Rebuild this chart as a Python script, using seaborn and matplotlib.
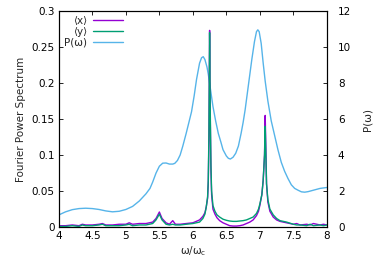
import matplotlib
matplotlib.use("Agg")
import matplotlib.pyplot as plt
import seaborn as sns
import pandas as pd

omega_f = [4.0, 4.1, 4.2, 4.3, 4.35, 4.4, 4.5, 4.6, 4.65, 4.7, 4.8, 4.9, 5.0, 5.05, 5.1,
           5.2, 5.3, 5.4, 5.45, 5.5, 5.54, 5.6, 5.65, 5.7, 5.74, 5.81, 5.9, 6.0, 6.1,
           6.15, 6.18, 6.2, 6.22, 6.23, 6.24, 6.25, 6.26, 6.27, 6.28, 6.29, 6.3, 6.33,
           6.36, 6.4, 6.45, 6.5, 6.55, 6.6, 6.65, 6.7, 6.75, 6.8, 6.85, 6.9, 6.95,
           6.98, 7.0, 7.03, 7.05, 7.07, 7.08, 7.09, 7.1, 7.12, 7.15, 7.2, 7.25, 7.3,
           7.4, 7.5, 7.55, 7.6, 7.7, 7.75, 7.8, 7.9, 7.95, 8.0]
x_spec = [0.002, 0.002, 0.003, 0.002, 0.004, 0.003, 0.003, 0.004, 0.005, 0.003, 0.003,
          0.004, 0.004, 0.006, 0.004, 0.005, 0.005, 0.007, 0.012, 0.021, 0.012, 0.006,
          0.004, 0.009, 0.004, 0.004, 0.005, 0.006, 0.01, 0.015, 0.02, 0.028, 0.04,
          0.06, 0.12, 0.273, 0.15, 0.08, 0.045, 0.035, 0.025, 0.018, 0.013, 0.009,
          0.006, 0.004, 0.002, 0.0015, 0.0015, 0.002, 0.003, 0.005, 0.007, 0.01,
          0.016, 0.022, 0.03, 0.045, 0.065, 0.1, 0.155, 0.11, 0.06, 0.035, 0.022,
          0.014, 0.01, 0.008, 0.006, 0.004, 0.005, 0.003, 0.004, 0.003, 0.005, 0.003,
          0.004, 0.003]
y_spec = [0.001, 0.001, 0.002, 0.001, 0.003, 0.002, 0.002, 0.003, 0.004, 0.002, 0.002,
          0.002, 0.003, 0.004, 0.002, 0.003, 0.003, 0.005, 0.01, 0.018, 0.01, 0.004,
          0.003, 0.004, 0.003, 0.003, 0.004, 0.005, 0.007, 0.012, 0.018, 0.028, 0.042,
          0.065, 0.13, 0.27, 0.16, 0.085, 0.05, 0.04, 0.03, 0.022, 0.017, 0.014,
          0.011, 0.0095, 0.0085, 0.008, 0.008, 0.0085, 0.009, 0.01, 0.012, 0.014,
          0.019, 0.025, 0.032, 0.045, 0.065, 0.1, 0.14, 0.1, 0.06, 0.038, 0.025,
          0.017, 0.012, 0.009, 0.007, 0.004, 0.003, 0.003, 0.002, 0.004, 0.002, 0.003,
          0.002, 0.003]

omega_p = [4.0, 4.1, 4.2, 4.3, 4.4, 4.5, 4.6, 4.7, 4.8, 4.9, 5.0, 5.1, 5.2, 5.3, 5.36,
           5.4, 5.45, 5.5, 5.55, 5.6, 5.65, 5.7, 5.73, 5.77, 5.81, 5.85, 5.9, 5.94,
           5.98, 6.02, 6.055, 6.1, 6.13, 6.155, 6.18, 6.21, 6.23, 6.265, 6.3, 6.34,
           6.38, 6.42, 6.45, 6.5, 6.53, 6.56, 6.6, 6.64, 6.68, 6.72, 6.75, 6.78, 6.83,
           6.88, 6.92, 6.95, 6.97, 6.99, 7.02, 7.05, 7.08, 7.12, 7.17, 7.22, 7.27,
           7.32, 7.37, 7.42, 7.47, 7.52, 7.57, 7.62, 7.67, 7.72, 7.8, 7.9, 8.0]
p_vals = [0.68, 0.85, 0.97, 1.03, 1.05, 1.03, 0.98, 0.9, 0.85, 0.88, 0.98, 1.15, 1.45,
          1.85, 2.15, 2.5, 3.0, 3.38, 3.55, 3.56, 3.5, 3.5, 3.54, 3.7, 4.0, 4.5, 5.2,
          5.8, 6.4, 7.3, 8.2, 9.1, 9.4, 9.46, 9.3, 8.9, 8.5, 7.6, 6.7, 5.9, 5.2, 4.7,
          4.3, 3.95, 3.82, 3.78, 3.88, 4.1, 4.5, 5.2, 5.8, 6.5, 7.9, 9.3, 10.3, 10.85,
          10.95, 10.85, 10.2, 9.1, 8.1, 7.0, 5.9, 5.1, 4.3, 3.6, 3.1, 2.7, 2.35, 2.15,
          2.05, 1.96, 1.94, 1.97, 2.05, 2.15, 2.2]

sns.set_theme(style="white")
plt.rcParams['font.family'] = ['DejaVu Sans']

C_X = "#9400d3"
C_Y = "#009e73"
C_P = "#56b4e9"

df_f = pd.DataFrame({"omega": omega_f, "x": x_spec, "y": y_spec})
df_p = pd.DataFrame({"omega": omega_p, "P": p_vals})

fig = plt.figure(figsize=(3.9, 2.73), dpi=100)
ax = fig.add_axes([0.151, 0.168, 0.687, 0.792])
ax2 = ax.twinx()

sns.lineplot(data=df_f, x="omega", y="x", ax=ax, color=C_X, lw=1.0, label="⟨x⟩")
sns.lineplot(data=df_f, x="omega", y="y", ax=ax, color=C_Y, lw=1.0, label="⟨y⟩")
sns.lineplot(data=df_p, x="omega", y="P", ax=ax2, color=C_P, lw=1.0, label="P(ω)", legend=False)

ax.set_xlim(4, 8)
ax.set_ylim(0, 0.3)
ax2.set_ylim(0, 12)
ax.set_xticks([4, 4.5, 5, 5.5, 6, 6.5, 7, 7.5, 8])
ax.set_xticklabels(["4", "4.5", "5", "5.5", "6", "6.5", "7", "7.5", "8"])
ax.set_yticks([0, 0.05, 0.1, 0.15, 0.2, 0.25, 0.3])
ax.set_yticklabels(["0", "0.05", "0.1", "0.15", "0.2", "0.25", "0.3"])
ax2.set_yticks([0, 2, 4, 6, 8, 10, 12])

fs = 7.5
ax.set_xlabel("ω/ω$_\\mathrm{c}$", fontsize=fs, labelpad=2)
ax.set_ylabel("Fourier Power Spectrum", fontsize=fs, labelpad=4)
ax2.set_ylabel("P(ω)", fontsize=fs, labelpad=8)

for a in (ax, ax2):
    for s in a.spines.values():
        s.set_color("black")
        s.set_linewidth(0.8)
ax.tick_params(axis="both", direction="in", length=3, width=0.6, labelsize=fs,
               top=True, right=False, colors="black", pad=3)
ax2.tick_params(axis="y", direction="in", length=3, width=0.6, labelsize=fs,
                colors="black", pad=8)

h1, l1 = ax.get_legend_handles_labels()
h2, l2 = ax2.get_legend_handles_labels()
ax.legend(h1 + h2, l1 + l2, loc="upper left", bbox_to_anchor=(0.0, 1.0),
          frameon=False, markerfirst=False, fontsize=fs, handlelength=2.8,
          labelspacing=0.05, borderaxespad=0.1, handletextpad=0.6)
ax.legend_.set_zorder(5)
ax2.set_zorder(0)
ax.set_zorder(1)
ax.patch.set_visible(False)

fig.savefig("out.png", dpi=100)
